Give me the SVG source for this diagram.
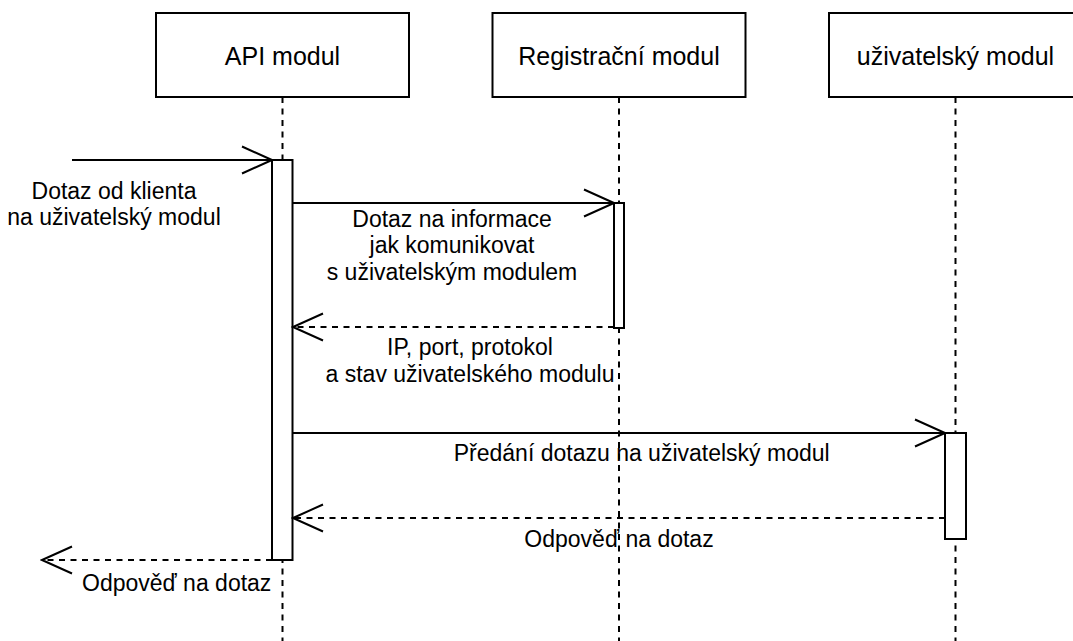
<svg xmlns="http://www.w3.org/2000/svg" width="1073" height="641" viewBox="0 0 1073 641">
<style>
.box{fill:#fff;stroke:#000;stroke-width:2}
.bar{fill:#fff;stroke:#000;stroke-width:2}
.life{fill:none;stroke:#000;stroke-width:2;stroke-dasharray:6 5.5}
.msg{fill:none;stroke:#000;stroke-width:2}
.ret{fill:none;stroke:#000;stroke-width:2;stroke-dasharray:6 5.5}
.hd{font-family:"Liberation Sans",Arial,sans-serif;font-size:25px;fill:#000;text-anchor:middle}
.lb{font-family:"Liberation Sans",Arial,sans-serif;font-size:23px;fill:#000;text-anchor:middle}
</style>
<defs>
<marker id="open" markerUnits="userSpaceOnUse" markerWidth="34" markerHeight="32" viewBox="-2 -2 34 32" refX="30" refY="13.5" orient="auto">
<path d="M0,0 L30,13.5 L0,27" fill="none" stroke="#000" stroke-width="2" stroke-dasharray="none"/>
</marker>
</defs>
<rect width="1073" height="641" fill="#fff"/>
<g id="lifelines">
<line class="life" x1="282.5" y1="97" x2="282.5" y2="641"/>
<line class="life" x1="619" y1="97" x2="619" y2="641"/>
<line class="life" x1="955.5" y1="97" x2="955.5" y2="641"/>
</g>
<g id="api-modul">
<rect class="box" x="156" y="13" width="253" height="84"/>
<text class="hd" x="282.5" y="65">API modul</text>
<rect class="bar" x="272" y="160" width="20.5" height="400"/>
</g>
<g id="registracni-modul">
<rect class="box" x="492.5" y="13" width="253" height="84"/>
<text class="hd" x="619" y="65">Registrační modul</text>
<rect class="bar" x="614" y="203" width="10" height="125"/>
</g>
<g id="uzivatelsky-modul">
<rect class="box" x="829" y="13" width="253" height="84"/>
<text class="hd" x="955.5" y="65">uživatelský modul</text>
<rect class="bar" x="945" y="433" width="21" height="106"/>
</g>
<g id="connectors">
<line class="msg" x1="72" y1="160" x2="272" y2="160" marker-end="url(#open)"/>
<line class="msg" x1="292.5" y1="203" x2="614" y2="203" marker-end="url(#open)"/>
<line class="ret" x1="614" y1="327" x2="293" y2="327" marker-end="url(#open)"/>
<line class="msg" x1="292.5" y1="433" x2="945" y2="433" marker-end="url(#open)"/>
<line class="ret" x1="945" y1="518" x2="293" y2="518" marker-end="url(#open)"/>
<line class="ret" x1="272" y1="560" x2="42" y2="560" marker-end="url(#open)"/>
</g>
<g id="labels">
<text class="lb" x="114" y="199">Dotaz od klienta</text>
<text class="lb" x="114" y="225">na uživatelský modul</text>
<text class="lb" x="452" y="226.5">Dotaz na informace</text>
<text class="lb" x="452" y="253">jak komunikovat</text>
<text class="lb" x="452" y="280">s uživatelským modulem</text>
<text class="lb" x="470" y="355">IP, port, protokol</text>
<text class="lb" x="470" y="381.5">a stav uživatelského modulu</text>
<text class="lb" x="641.7" y="461">Předání dotazu na uživatelský modul</text>
<text class="lb" x="619" y="547">Odpověď na dotaz</text>
<text class="lb" x="176.7" y="591">Odpověď na dotaz</text>
</g>
</svg>
